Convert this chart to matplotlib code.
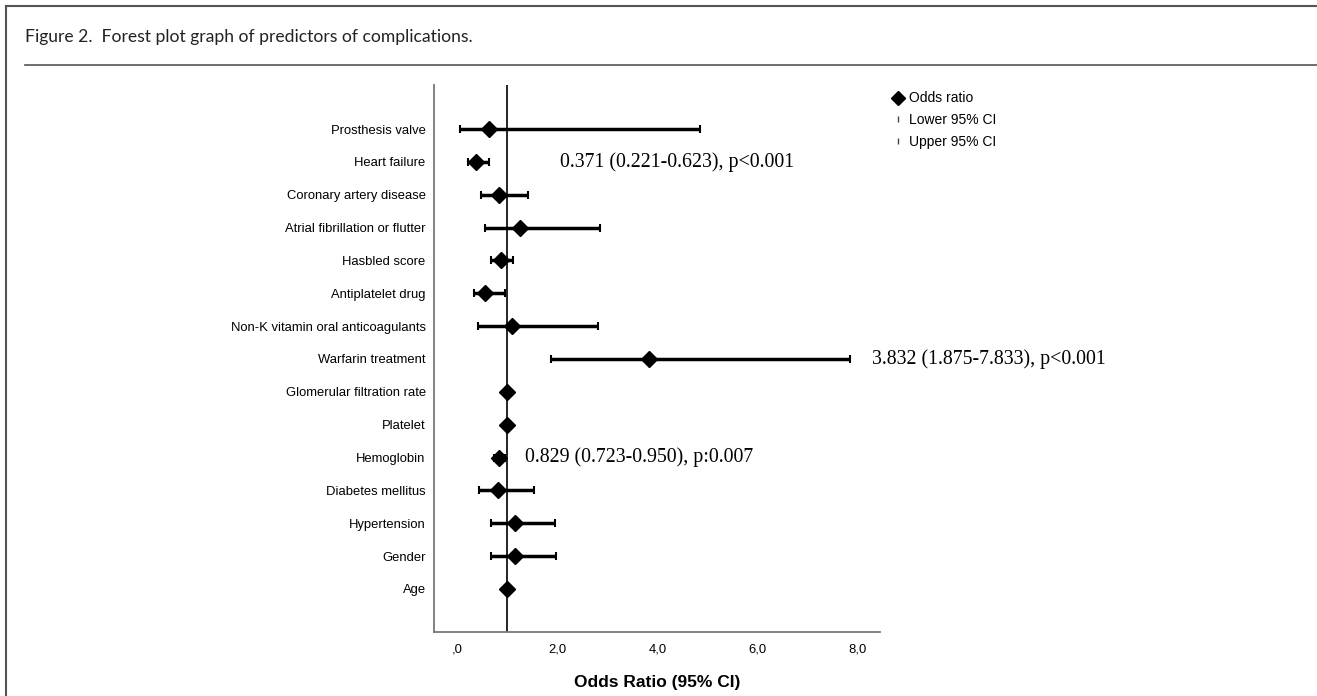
import matplotlib
matplotlib.use("Agg")
import matplotlib.pyplot as plt
from matplotlib.lines import Line2D

# predictors, top to bottom
predictors = ["Prosthesis valve", "Heart failure", "Coronary artery disease",
              "Atrial fibrillation or flutter", "Hasbled score", "Antiplatelet drug",
              "Non-K vitamin oral anticoagulants", "Warfarin treatment",
              "Glomerular filtration rate", "Platelet", "Hemoglobin",
              "Diabetes mellitus", "Hypertension", "Gender", "Age"]
odds = [0.64, 0.371, 0.83, 1.26, 0.87, 0.56, 1.09, 3.832, 0.99, 1.0, 0.829, 0.82, 1.15, 1.16, 1.0]
lower = [0.05, 0.221, 0.48, 0.55, 0.67, 0.33, 0.41, 1.875, 0.98, 0.99, 0.723, 0.43, 0.68, 0.67, 0.99]
upper = [4.84, 0.623, 1.42, 2.84, 1.11, 0.95, 2.81, 7.833, 1.01, 1.01, 0.950, 1.54, 1.94, 1.97, 1.01]

# significant rows get a note: index -> p text
notes = {1: "p<0.001", 7: "p<0.001", 10: "p:0.007"}
note_x = {1: 2.05, 7: 8.28, 10: 1.35}

xticks = [0, 2, 4, 6, 8]
xticklabels = [",0", "2,0", "4,0", "6,0", "8,0"]

W, H = 1317, 696
fig = plt.figure(figsize=(W / 100, H / 100), dpi=100, facecolor="white")

# page frame and caption
fig.add_artist(Line2D([6 / W, 6 / W], [0, 1 - 6 / H], color="#555555", lw=1.5))
fig.add_artist(Line2D([6 / W, 1], [1 - 6 / H, 1 - 6 / H], color="#555555", lw=1.5))
fig.add_artist(Line2D([25 / W, 1], [1 - 65 / H, 1 - 65 / H], color="#555555", lw=1.2))
fig.text(25 / W, 1 - 37 / H, "Figure 2.  Forest plot graph of predictors of complications.",
         family="Lato", fontsize=12.6, va="center", ha="left", color="#222222")

ax = fig.add_axes([434 / W, 1 - 632 / H, (880 - 434) / W, (632 - 85) / H])

y = list(range(len(predictors)))
err_lo = [o - l for o, l in zip(odds, lower)]
err_hi = [u - o for o, u in zip(odds, upper)]

ax.axvline(1, color="black", lw=1.2, zorder=1)
ax.errorbar(odds, y, xerr=[err_lo, err_hi], fmt="none", ecolor="black",
            elinewidth=2.5, capsize=2.8, capthick=1.5, zorder=2)
ax.plot(odds, y, "D", color="black", ms=8.5, zorder=3)

for i, p in notes.items():
    txt = "{:.3f} ({:.3f}-{:.3f}), {}".format(odds[i], lower[i], upper[i], p)
    ax.text(note_x[i], y[i], txt, family="Liberation Serif", fontsize=14.3,
            va="center", ha="left", clip_on=False)

ax.set_xlim(-0.467, 8.44)
ax.set_ylim(len(predictors) - 1 + 1.31, -1.34)
ax.set_yticks(y)
ax.set_yticklabels(predictors, family="Liberation Sans", fontsize=9.4)
ax.set_xticks(xticks)
ax.set_xticklabels(xticklabels, family="Liberation Sans", fontsize=9.4)
ax.tick_params(axis="both", length=0)
ax.tick_params(axis="x", pad=8)
ax.tick_params(axis="y", pad=6)
ax.set_xlabel("Odds Ratio (95% CI)", family="Liberation Sans", fontsize=12.5,
              fontweight="bold", labelpad=14)

for s in ["top", "right"]:
    ax.spines[s].set_visible(False)
for s in ["left", "bottom"]:
    ax.spines[s].set_color("#777777")
    ax.spines[s].set_linewidth(1.3)

handles = [Line2D([], [], ls="none", marker="D", color="black", ms=7.5),
           Line2D([], [], ls="none", marker="|", color="#444444", ms=4),
           Line2D([], [], ls="none", marker="|", color="#444444", ms=4)]
fig.legend(handles, ["Odds ratio", "Lower 95% CI", "Upper 95% CI"],
           loc="upper left", bbox_to_anchor=(880 / W, 1 - 79 / H),
           frameon=False, handlelength=0.8, handletextpad=0.4, labelspacing=0.55,
           prop={"family": "Liberation Sans", "size": 10})

fig.savefig("out.png", dpi=100)
